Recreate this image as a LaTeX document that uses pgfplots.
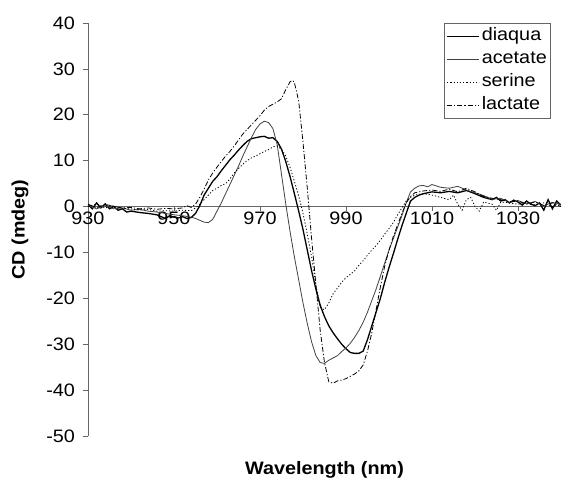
\documentclass[border=0pt]{standalone}
\usepackage{fontspec}
\setmainfont[FakeStretch=1.1]{Liberation Sans}
\usepackage{pgfplots}
\pgfplotsset{compat=1.18}
\newcommand{\lblfont}{\fontsize{18bp}{22bp}\selectfont}
\begin{document}
\begin{tikzpicture}
\begin{axis}[name=ax,
  scale only axis, width=473bp, height=413bp,
  xmin=930, xmax=1040, ymin=-50, ymax=40,
  axis x line=middle, axis y line=left,
  axis line style={black!60, line width=0.6bp, -},
  hide obscured x ticks=false, hide obscured y ticks=false,
  xtick={930,950,970,990,1010,1030}, xticklabels={930,950,970,990,1010,1030},
  ytick={-50,-40,-30,-20,-10,0,10,20,30,40},
  yticklabels={-50,-40,-30,-20,-10,0,10,20,30,40},
  tick align=outside, major tick length=4.5bp,
  tick style={black!60, line width=0.6bp},
  ticklabel style={font=\lblfont},
  xticklabel style={yshift=3bp},
  yticklabel style={xshift=-5bp},
  xlabel={\bfseries Wavelength (nm)}, ylabel={\bfseries CD (mdeg)},
  xlabel style={font=\lblfont, at={(axis description cs:0.5,0)}, anchor=base, yshift=-39bp},
  ylabel style={font=\lblfont, at={(axis description cs:-0.144,0.5)}, anchor=center},
  legend style={at={(axis description cs:0.979,1)}, anchor=north east,
    draw=black!60, line width=0.6bp, font=\lblfont, cells={anchor=west},
    row sep=1bp, inner xsep=2bp, inner ysep=2bp,
    nodes={inner sep=2bp, text height=13.5bp, text depth=4.5bp}},
  legend image code/.code={\draw[#1] (0bp,0bp) -- (32bp,0bp);},
  clip=true,
]
% diaqua
\addplot[black, line width=1.3bp] coordinates {
(930,0.5)(931,-0.5)(932,0.8)(933,-0.3)(934,0.6)(935,-0.5)(936,0)(937,-0.8)(938,-0.5)(939,-1.2)
(940,-1.0)(942,-1.3)(944,-1.5)(946,-1.8)(948,-2.6)(949,-2.0)(950,-2.3)(951,-2.5)(952,-2.2)(953,-2.6)
(954,-2.4)(955,-1.5)(956,0.2)(957,2.5)(958,4)(959,5.5)(960,6.5)(961,7.8)(962,9)(963,10.2)
(964,11.2)(965,12.3)(966,13.3)(967,14.2)(968,14.8)(969,15.0)(970,15.2)(971,15.3)(972,14.9)(973,15.0)
(974,14.2)(975,12.5)(976,9.8)(977,6.5)(978,2.8)(979,-1)(980,-5)(981,-9.5)(982,-14)(983,-18)
(984,-21.5)(985,-24)(986,-26)(987,-27.5)(988,-28.8)(989,-30)(990,-31)(991,-31.8)(992,-32)(993,-32)
(994,-31.5)(995,-29)(996,-26)(997,-23)(998,-20)(999,-16.5)(1000,-13.3)(1001,-10.3)(1002,-7.2)(1003,-4.2)
(1004,-1.5)(1005,1.2)(1006,2)(1007,2.5)(1008,2.8)(1010,3.2)(1012,3.0)(1014,3.3)(1016,3.0)(1018,3.5)
(1020,2.8)(1022,2.0)(1024,1.5)(1025,2.0)(1026,1.2)(1027,1.5)(1028,0.8)(1029,1.4)(1030,1.0)(1031,0.3)
(1032,1.2)(1033,0.5)(1034,0.2)(1035,0.8)(1036,-0.8)(1037,1.5)(1038,-0.5)(1039,1.2)(1040,0.3)};
\addlegendentry{diaqua}
% acetate
\addplot[black!75, line width=0.8bp] coordinates {
(930,0.3)(932,-0.5)(934,0.2)(936,-0.5)(938,-0.3)(940,-0.8)(942,-0.6)(944,-1.0)(946,-1.2)(948,-1.5)
(950,-1.8)(952,-2.0)(954,-2.3)(955,-2.6)(956,-3.0)(957,-3.4)(958,-3.5)(959,-2.8)(960,-1)(961,0.8)
(962,2.8)(963,4.8)(964,6.8)(965,8.8)(966,11)(967,13)(968,15)(969,16.8)(970,18)(971,18.6)
(972,18.3)(973,17)(974,13.5)(975,7)(976,0.5)(977,-5.5)(978,-11)(979,-16)(980,-21)(981,-25.5)
(982,-29.5)(983,-32.5)(984,-34)(985,-34.2)(986,-33.5)(987,-33)(988,-32.5)(989,-31.6)(990,-30.8)(991,-29.8)
(992,-28.5)(993,-27)(994,-25.2)(995,-23)(996,-20.5)(997,-18)(998,-15.2)(999,-12.3)(1000,-9.5)(1001,-7)
(1002,-4.5)(1003,-2)(1004,0.8)(1005,3.2)(1006,4.0)(1007,4.5)(1008,4.6)(1009,4.3)(1010,4.8)(1012,4.2)
(1014,4.0)(1016,4.4)(1018,3.6)(1020,3.0)(1022,2.4)(1024,1.6)(1026,1.8)(1028,0.9)(1030,1.3)(1032,0.6)
(1034,1.1)(1036,0.2)(1038,0.9)(1040,0.5)};
\addlegendentry{acetate}
% serine
\addplot[black, line width=0.8bp, dash pattern=on 1.2bp off 2bp] coordinates {
(930,0)(932,0.5)(934,-0.3)(936,0.2)(938,-0.4)(940,-0.5)(942,-0.8)(944,-0.6)(946,-1.0)(948,-0.9)
(950,-1.0)(952,-0.8)(954,-0.9)(955,-0.3)(956,0.5)(957,1.5)(958,2.5)(959,3.5)(960,4)(961,4.6)
(962,5.0)(963,6)(964,7.3)(965,8.3)(966,9.2)(967,10)(968,10.6)(969,11)(970,11.5)(971,12)
(972,12.4)(973,13.0)(974,13.2)(975,12.5)(976,11)(977,8.5)(978,5.5)(979,2.3)(980,-1.5)(981,-6)
(982,-11)(983,-17)(984,-22)(985,-22.5)(986,-21)(987,-19)(988,-17.8)(989,-16.5)(990,-15.5)(991,-14.8)
(992,-14)(993,-12.8)(994,-11.8)(995,-10.6)(996,-9.5)(997,-8.5)(998,-7.3)(999,-6)(1000,-4.8)(1001,-3.5)
(1002,-1.8)(1003,-0.3)(1004,1.2)(1005,2.0)(1006,2.5)(1008,2.8)(1010,2.5)(1012,2.0)(1014,1.5)(1015,2.5)
(1016,0.5)(1017,-0.8)(1018,1.5)(1019,2.0)(1020,0)(1021,-1.0)(1022,1.0)(1024,0.5)(1025,-0.8)(1026,1.0)
(1028,0.8)(1030,0.5)(1032,1.0)(1034,0.3)(1036,0.8)(1038,0)(1040,0.5)};
\addlegendentry{serine}
% lactate
\addplot[black, line width=0.8bp, dash pattern=on 5bp off 2bp on 1.2bp off 2bp] coordinates {
(930,0.5)(932,-0.3)(934,0.5)(936,0.0)(938,-0.3)(940,-0.2)(942,-0.5)(944,-0.3)(946,-0.6)(948,-0.4)
(950,-0.5)(952,-0.3)(953,0.2)(954,-0.2)(955,0.5)(956,2.0)(957,3.8)(958,5.8)(959,7.3)(960,8.6)
(961,9.8)(962,11)(963,12)(964,13.2)(965,14.5)(966,15.8)(967,16.8)(968,17.8)(969,18.8)(970,19.8)
(971,21)(972,21.8)(973,22.3)(974,22.8)(975,23.5)(976,25.5)(977,27.2)(977.6,27.5)(978,27)(979,23)
(980,14)(981,4)(982,-7)(983,-17)(984,-27)(985,-34)(986,-38.2)(987,-38.5)(988,-38)(989,-37.8)
(990,-37.5)(991,-37)(992,-36.5)(993,-35.8)(994,-34.5)(995,-31.5)(996,-27.5)(997,-22.5)(998,-17.5)(999,-13)
(1000,-9.5)(1001,-6.5)(1002,-4)(1003,-1.5)(1004,0.8)(1005,2.2)(1006,3.0)(1008,3.4)(1010,3.6)(1012,3.3)
(1014,3.8)(1016,3.2)(1018,4.0)(1020,3.2)(1022,2.2)(1024,1.8)(1026,1.5)(1028,1.0)(1030,1.2)(1032,0.5)
(1034,1.0)(1036,0.2)(1038,0.8)(1040,0)};
\addlegendentry{lactate}
\end{axis}
\pgfresetboundingbox
\path ([xshift=-88bp,yshift=-43bp]ax.south west) rectangle ([yshift=23bp]ax.north east);
\end{tikzpicture}
\end{document}
